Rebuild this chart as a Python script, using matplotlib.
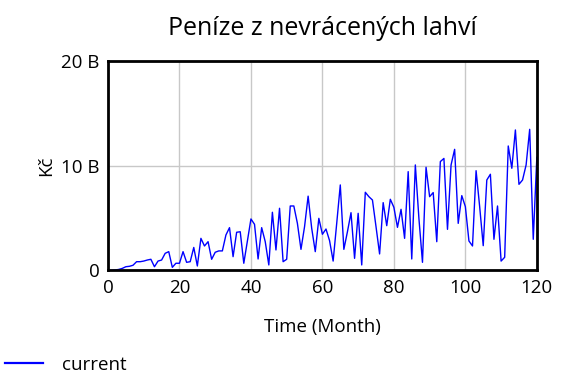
import numpy as np
import matplotlib
matplotlib.use("Agg")
import matplotlib.pyplot as plt
from matplotlib.ticker import FuncFormatter

plt.rcParams['font.family'] = ['Open Sans', 'DejaVu Sans']

# monthly values, in billions of Kč
months = np.arange(0, 121)
current = [
    0.0, 0.02, 0.05, 0.1, 0.2, 0.36, 0.4, 0.5, 0.84, 0.84,
    0.9, 1.0, 1.07, 0.36, 0.9, 1.0, 1.64, 1.8, 0.3, 0.69,
    0.69, 1.8, 0.78, 0.84, 2.2, 0.43, 3.07, 2.34, 2.75, 1.07,
    1.74, 1.87, 1.87, 3.39, 4.09, 1.32, 3.65, 3.7, 0.69, 2.8,
    4.92, 4.41, 1.1, 4.09, 2.75, 0.53, 5.56, 1.96, 5.94, 0.84,
    1.07, 6.16, 6.16, 4.5, 2.02, 4.18, 7.1, 4.03, 1.8, 4.98,
    3.46, 3.96, 2.85, 0.9, 4.5, 8.17, 2.02, 3.7, 5.52, 1.16,
    5.46, 0.53, 7.47, 7.05, 6.73, 4.18, 1.58, 6.48, 4.28, 6.8,
    6.03, 4.12, 5.84, 3.07, 9.44, 1.1, 10.08, 4.98, 0.78, 9.86,
    7.05, 7.44, 2.75, 10.4, 10.7, 3.93, 10.08, 11.57, 4.5, 7.15,
    6.1, 2.82, 2.34, 9.53, 6.1, 2.37, 8.64, 9.19, 2.98, 6.16,
    0.9, 1.26, 11.89, 9.76, 13.42, 8.23, 8.64, 10.08, 13.48, 2.98,
    10.8,
]
x_ticks = [0, 20, 40, 60, 80, 100, 120]
y_ticks = [0, 10, 20]

fs = 13.5
fig = plt.figure(figsize=(5.76, 3.84), dpi=100)
ax = fig.add_axes([0.1875, 0.2956, 0.7445, 0.5454])

ax.plot(months, current, color='#0000ff', lw=1.0, label='current')

ax.set_xlim(0, 120)
ax.set_ylim(0, 20)
ax.set_xticks(x_ticks)
ax.set_yticks(y_ticks)
ax.yaxis.set_major_formatter(FuncFormatter(lambda v, p: '0' if v == 0 else f'{v:.0f} B'))
ax.tick_params(length=0, labelsize=fs, pad=6)
ax.grid(True, color='#c8c8c8', lw=1.0)
ax.set_axisbelow(True)
for s in ax.spines.values():
    s.set_linewidth(2.0)
    s.set_color('black')

ax.set_title('Peníze z nevrácených lahví', fontsize=18, pad=19)
ax.set_xlabel('Time (Month)', fontsize=fs, labelpad=15)
ax.set_ylabel('Kč', fontsize=fs, labelpad=4)

leg = fig.legend(loc='lower left', bbox_to_anchor=(-0.02, -0.018), frameon=False,
                 fontsize=fs, handlelength=2.0, handletextpad=1.0)
leg.get_lines()[0].set_linewidth(1.6)

fig.savefig('out.png', dpi=100)
